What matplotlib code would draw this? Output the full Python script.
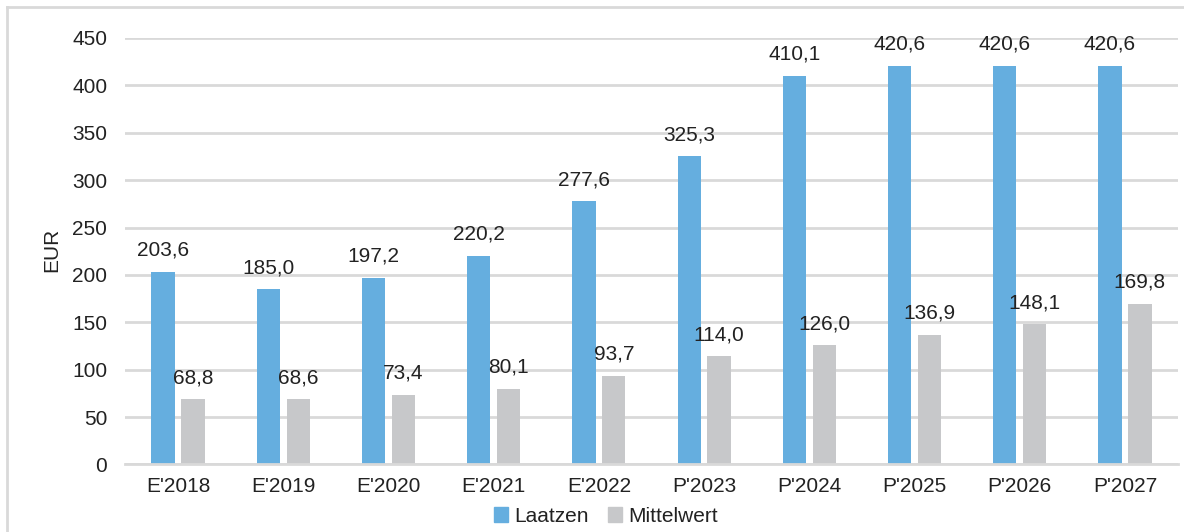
"""Laatzen vs. Mittelwert — grouped bar chart (EUR)."""

import matplotlib

matplotlib.use("Agg")
import matplotlib.pyplot as plt
import numpy as np
from matplotlib.lines import Line2D
from matplotlib.patches import Patch

categories = ["E'2018", "E'2019", "E'2020", "E'2021", "E'2022",
              "P'2023", "P'2024", "P'2025", "P'2026", "P'2027"]
laatzen = [203.6, 185.0, 197.2, 220.2, 277.6, 325.3, 410.1, 420.6, 420.6, 420.6]
mittelwert = [68.8, 68.6, 73.4, 80.1, 93.7, 114.0, 126.0, 136.9, 148.1, 169.8]

BLUE = "#65AEDF"
GRAY = "#C7C8CA"
TEXT = "#222222"
GRID = "#D9D9D9"
FS = 15

plt.rcParams["font.family"] = ["Liberation Sans", "DejaVu Sans"]
plt.rcParams["font.size"] = FS

fig = plt.figure(figsize=(11.84, 5.32), dpi=100)
ax = fig.add_axes([0.1059, 0.1269, 0.8887, 0.8017])

x = np.arange(len(categories))
width = 0.22
offset = 0.142

bars_l = ax.bar(x - offset, laatzen, width, color=BLUE, zorder=2)
bars_m = ax.bar(x + offset, mittelwert, width, color=GRAY, zorder=2)


def fmt(v):
    return f"{v:.1f}".replace(".", ",")


for bars, vals in ((bars_l, laatzen), (bars_m, mittelwert)):
    for b, v in zip(bars, vals):
        ax.annotate(fmt(v), (b.get_x() + b.get_width() / 2, v),
                    xytext=(0, 11.5), textcoords="offset points",
                    ha="center", va="baseline", color=TEXT, fontsize=FS)

ax.set_xlim(-0.5, len(categories) - 0.5)
ax.set_ylim(0, 450)
ax.set_yticks(np.arange(0, 451, 50))
ax.set_xticks(x)
ax.set_xticklabels(categories)
ax.tick_params(axis="both", length=0, colors=TEXT, labelsize=FS)
ax.tick_params(axis="y", pad=13)
ax.tick_params(axis="x", pad=9)

ax.yaxis.grid(True, color=GRID, linewidth=2, zorder=0)
ax.set_axisbelow(True)
for side in ("top", "right", "left"):
    ax.spines[side].set_visible(False)
ax.spines["bottom"].set_color(GRID)
ax.spines["bottom"].set_linewidth(2)

fig.text(52 / 1184, 0.5 + (532 / 2 - 250) / 532, "EUR", rotation=90,
         ha="center", va="center", color=TEXT, fontsize=FS)

handles = [Patch(color=BLUE, label="Laatzen"), Patch(color=GRAY, label="Mittelwert")]
fig.legend(handles=handles, loc="center", ncol=2, frameon=False,
           bbox_to_anchor=(606 / 1184, 1 - 516 / 532),
           handlelength=0.7, handleheight=0.7, handletextpad=0.3,
           columnspacing=0.9, fontsize=FS, labelcolor=TEXT)

# light frame around the whole chart
fig.add_artist(Line2D([7 / 1184, 7 / 1184], [0, 1 - 7 / 532],
                      transform=fig.transFigure, color=GRID, linewidth=2))
fig.add_artist(Line2D([7 / 1184, 1], [1 - 7 / 532, 1 - 7 / 532],
                      transform=fig.transFigure, color=GRID, linewidth=2))

fig.savefig("out.png", dpi=100)
